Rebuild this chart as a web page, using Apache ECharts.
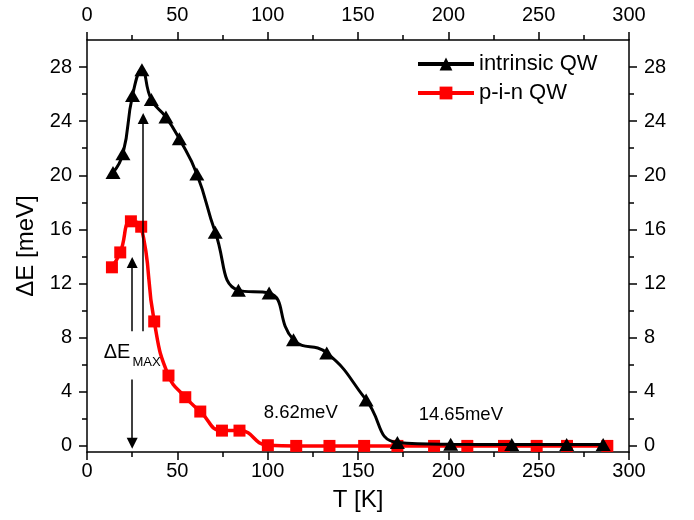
<!DOCTYPE html>
<html>
<head>
<meta charset="utf-8">
<script src="https://cdn.jsdelivr.net/npm/echarts@6/dist/echarts.min.js"></script>
<style>html,body{margin:0;padding:0;background:#fff}#c{width:694px;height:520px}</style>
</head>
<body>
<div id="c"></div>
<script>
const tIntrinsic = [14.4, 19.9, 25.2, 30.4, 35.6, 43.7, 51.1, 60.8, 71, 83.8, 100.8, 114.3, 132.7, 154.5, 171.8, 201.3, 235.1, 265.5, 285.7];
const dEIntrinsic = [20.2, 21.6, 25.9, 27.8, 25.6, 24.3, 22.7, 20.1, 15.8, 11.5, 11.3, 7.85, 6.87, 3.4, 0.25, 0.12, 0.1, 0.1, 0.1];
const tPin = [13.8, 18.4, 24.3, 30, 37.2, 45.1, 54.4, 62.7, 74.7, 84.4, 100.1, 115.8, 134.2, 153.4, 171.8, 192.1, 210.5, 230.8, 248.9, 265.7, 288];
const dEPin = [13.2, 14.3, 16.6, 16.2, 9.2, 5.2, 3.6, 2.54, 1.13, 1.13, 0.05, 0, 0, 0, 0, 0, 0, 0, 0, 0, 0];
const xTicks = [0, 50, 100, 150, 200, 250, 300];
const yMajor = [0, 4, 8, 12, 16, 20, 24, 28];
const yMinor = [2, 6, 10, 14, 18, 22, 26];
const seriesNames = ['intrinsic QW', 'p-i-n QW'];
const notes = ['8.62meV', '14.65meV'];

const FONT = 'Liberation Sans';
const zip = (a, b) => a.map((v, i) => [v, b[i]]);
const chart = echarts.init(document.getElementById('c'));

const axisLine = { show: true, onZero: false, lineStyle: { color: '#000', width: 1.5 } };
const xCommon = {
  type: 'value', min: 0, max: 300, interval: 50,
  axisLine: axisLine,
  axisTick: { show: true, inside: false, length: 8, lineStyle: { color: '#000', width: 1.5 } },
  minorTick: { show: true, splitNumber: 2, length: 5, lineStyle: { color: '#000', width: 1.5 } },
  splitLine: { show: false },
  axisLabel: { color: '#000', fontSize: 20, fontFamily: FONT, margin: 9 }
};
const yRange = { type: 'value', min: -0.45, max: 30 };

chart.setOption({
  animation: false,
  grid: { left: 87, right: 65, top: 40, bottom: 68, containLabel: false },
  legend: {
    data: seriesNames,
    orient: 'vertical', left: 411, top: 48,
    itemWidth: 56, itemHeight: 16, itemGap: 7,
    lineStyle: { width: 4 },
    textStyle: { color: '#000', fontSize: 22, fontFamily: FONT, lineHeight: 22 }
  },
  xAxis: [
    Object.assign({}, xCommon, {
      position: 'bottom',
      name: 'T [K]', nameLocation: 'middle', nameGap: 36,
      nameTextStyle: { color: '#000', fontSize: 24, fontFamily: FONT }
    }),
    Object.assign({}, xCommon, { position: 'top', axisLabel: Object.assign({}, xCommon.axisLabel, { margin: 15 }) })
  ],
  yAxis: [
    Object.assign({}, yRange, {
      position: 'left',
      name: 'ΔE [meV]', nameLocation: 'middle', nameGap: 48, nameRotate: 90,
      nameTextStyle: { color: '#000', fontSize: 24, fontFamily: FONT },
      axisLine: axisLine,
      axisTick: { show: true, length: 8, customValues: yMajor, lineStyle: { color: '#000', width: 1.5 } },
      axisLabel: { show: true, customValues: yMajor, color: '#000', fontSize: 20, fontFamily: FONT, margin: 15 },
      splitLine: { show: false }
    }),
    Object.assign({}, yRange, {
      position: 'left',
      axisLine: { show: false, onZero: false },
      axisTick: { show: true, length: 5, customValues: yMinor, lineStyle: { color: '#000', width: 1.5 } },
      axisLabel: { show: false },
      splitLine: { show: false }
    }),
    Object.assign({}, yRange, {
      position: 'right',
      axisLine: axisLine,
      axisTick: { show: true, length: 8, customValues: yMajor, lineStyle: { color: '#000', width: 1.5 } },
      axisLabel: { show: true, customValues: yMajor, color: '#000', fontSize: 20, fontFamily: FONT, margin: 15 },
      splitLine: { show: false }
    }),
    Object.assign({}, yRange, {
      position: 'right',
      axisLine: { show: false, onZero: false },
      axisTick: { show: true, length: 5, customValues: yMinor, lineStyle: { color: '#000', width: 1.5 } },
      axisLabel: { show: false },
      splitLine: { show: false }
    })
  ],
  series: [
    {
      name: seriesNames[1], type: 'line', xAxisIndex: 0, yAxisIndex: 0,
      data: zip(tPin, dEPin), smooth: 0.5,
      symbol: 'rect', symbolSize: 12,
      lineStyle: { color: '#ff0000', width: 3.5 },
      itemStyle: { color: '#ff0000' },
      z: 2,
      markLine: {
        silent: true, animation: false,
        symbol: ['none', 'triangle'], symbolSize: 11,
        label: { show: false },
        lineStyle: { color: '#000', width: 1.5, type: 'solid' },
        emphasis: { disabled: true },
        data: [
          [{ coord: [31.1, 8.47] }, { coord: [31.1, 24.2] }],
          [{ coord: [25, 8.47] }, { coord: [25, 13.55] }],
          [{ coord: [25, 4.9] }, { coord: [25, 0.2] }]
        ]
      },
      markPoint: {
        silent: true, animation: false,
        symbol: 'rect', symbolSize: 0,
        itemStyle: { color: 'transparent' },
        label: { show: true, position: 'inside', color: '#000', fontFamily: FONT },
        data: [
          { coord: [16.6, 6.91], label: { formatter: 'ΔE', fontSize: 20 } },
          { coord: [33, 6.2], label: { formatter: 'MAX', fontSize: 13 } },
          { coord: [118.3, 2.46], label: { formatter: notes[0], fontSize: 18.5 } },
          { coord: [206.9, 2.26], label: { formatter: notes[1], fontSize: 18.5 } }
        ]
      }
    },
    {
      name: seriesNames[0], type: 'line', xAxisIndex: 0, yAxisIndex: 0,
      data: zip(tIntrinsic, dEIntrinsic), smooth: 0.5,
      symbol: 'triangle', symbolSize: [15, 13],
      lineStyle: { color: '#000', width: 3 },
      itemStyle: { color: '#000' },
      z: 3
    }
  ]
});
</script>
</body>
</html>
